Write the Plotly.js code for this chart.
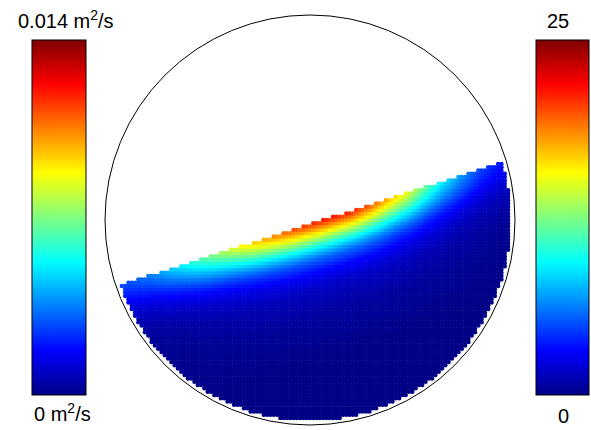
<!DOCTYPE html>
<html><head><meta charset="utf-8">
<script src="https://cdn.plot.ly/plotly-3.0.1.min.js"></script>
<style>html,body{margin:0;padding:0;background:#fff}#chart{width:591px;height:430px}</style>
</head><body><div id="chart"></div>
<script>
// ---- data ----
// Drum outline and granular bed, in units of drum radius
const drumRadius = 1;
const bedRadius = 0.978;                 // particles stop just short of the wall
const surfaceEndX = [-0.893, 0.912];     // free-surface end points
const surfaceEndY = [-0.307, 0.273];
const particleSpacing = 0.0161;
// Diffusivity at the free surface (fraction of colour-bar max) vs x position
const surfX = [-0.893, -0.780, -0.649, -0.537, -0.439, -0.341, -0.278, -0.195, -0.098, 0.049, 0.195, 0.293, 0.366, 0.463, 0.537, 0.634, 0.732, 0.820, 0.912];
const surfV = [0.20, 0.25, 0.35, 0.45, 0.53, 0.62, 0.68, 0.74, 0.80, 0.85, 0.86, 0.80, 0.72, 0.62, 0.51, 0.38, 0.28, 0.20, 0.15];
// Decay of diffusivity with depth below the free surface (drum radii)
const depthD = [0, 0.029, 0.059, 0.088, 0.117, 0.146, 0.176, 0.234, 0.312, 0.439, 0.634, 2.0];
const depthF = [1, 0.87, 0.73, 0.59, 0.46, 0.35, 0.26, 0.15, 0.075, 0.03, 0.0, 0.0];
// Colour bars
const leftMax = 0.014, leftMin = 0;      // m^2/s
const rightMax = 25, rightMin = 0;
const leftLabels = ['0.014 m<sup>2</sup>/s', '0 m<sup>2</sup>/s'];
const rightLabels = ['25', '0'];

// ---- build particle table ----
function lin(xs, ys, x) {
  if (x <= xs[0]) return ys[0];
  for (let i = 1; i < xs.length; i++) {
    if (x <= xs[i]) { const t = (x - xs[i-1]) / (xs[i] - xs[i-1]); return ys[i-1] + t * (ys[i] - ys[i-1]); }
  }
  return ys[ys.length - 1];
}
const dx = surfaceEndX[1] - surfaceEndX[0], dy = surfaceEndY[1] - surfaceEndY[0];
const L = Math.hypot(dx, dy), ux = dx / L, uy = dy / L;
const px = [], py = [], pc = [];
const n = Math.ceil(bedRadius / particleSpacing);
for (let i = -n; i <= n; i++) {
  for (let j = -n; j <= n; j++) {
    const x = i * particleSpacing, y = j * particleSpacing;
    if (x * x + y * y > bedRadius * bedRadius) continue;
    const rx = x - surfaceEndX[0], ry = y - surfaceEndY[0];
    const cross = ux * ry - uy * rx;       // >0 above the surface
    if (cross > 0) continue;
    const d = -cross;
    const along = rx * ux + ry * uy;
    const xs = surfaceEndX[0] + along * ux;
    const v = lin(surfX, surfV, xs) * lin(depthD, depthF, d) * leftMax;
    px.push(x); py.push(y); pc.push(v);
  }
}

const jet = [[0,'rgb(0,0,135)'],[0.125,'rgb(0,0,255)'],[0.375,'rgb(0,255,255)'],[0.625,'rgb(255,255,0)'],[0.875,'rgb(255,0,0)'],[1,'rgb(128,0,0)']];

const W = 591, H = 430, cxPx = 310, cyPx = 220, Rpx = 205;
const xr = [-cxPx / Rpx, (W - cxPx) / Rpx];
const yr = [(cyPx - H) / Rpx, cyPx / Rpx];

const traces = [
  { type: 'scatter', mode: 'markers', x: px, y: py, hoverinfo: 'skip', showlegend: false,
    marker: { symbol: 'circle', size: 4.5, opacity: 1, color: pc, coloraxis: 'coloraxis', line: { width: 0 } } },
  { type: 'scatter', mode: 'markers', x: [xr[0] - 5, xr[0] - 5], y: [0, 0], hoverinfo: 'skip', showlegend: false,
    marker: { size: 1, color: [rightMin, rightMax], coloraxis: 'coloraxis2', opacity: 0 } }
];

const cbCommon = { thickness: 54, thicknessmode: 'pixels', len: 355, lenmode: 'pixels', y: 1 - (40 + 177.5) / H, yanchor: 'middle',
  xanchor: 'left', xpad: 0, ypad: 0, outlinewidth: 1, outlinecolor: '#000', ticks: '', showticklabels: false };

const font = 'Liberation Sans, Arial, sans-serif';
const ann = (t, x, y) => ({ text: t, x: x / W, y: 1 - y / H, xref: 'paper', yref: 'paper', showarrow: false,
  xanchor: 'center', yanchor: 'middle', font: { family: font, size: 20, color: '#000' } });

const layout = {
  width: W, height: H, autosize: false,
  margin: { l: 0, r: 0, t: 0, b: 0, pad: 0 },
  paper_bgcolor: '#fff', plot_bgcolor: '#fff',
  xaxis: { range: xr, visible: false, fixedrange: true },
  yaxis: { range: yr, visible: false, fixedrange: true },
  coloraxis: { cmin: leftMin, cmax: leftMax, colorscale: jet, colorbar: Object.assign({}, cbCommon, { x: 32 / W }) },
  coloraxis2: { cmin: rightMin, cmax: rightMax, colorscale: jet, colorbar: Object.assign({}, cbCommon, { x: 536 / W, thickness: 53 }) },
  shapes: [{ type: 'circle', xref: 'x', yref: 'y', x0: -drumRadius, y0: -drumRadius, x1: drumRadius, y1: drumRadius,
    line: { color: '#000', width: 1 }, layer: 'below' }],
  annotations: [ann(leftLabels[0], 66, 20), ann(leftLabels[1], 62, 412), ann(rightLabels[0], 558, 21), ann(rightLabels[1], 563, 416)]
};

Plotly.newPlot('chart', traces, layout, { staticPlot: true, displayModeBar: false });
</script></body></html>
